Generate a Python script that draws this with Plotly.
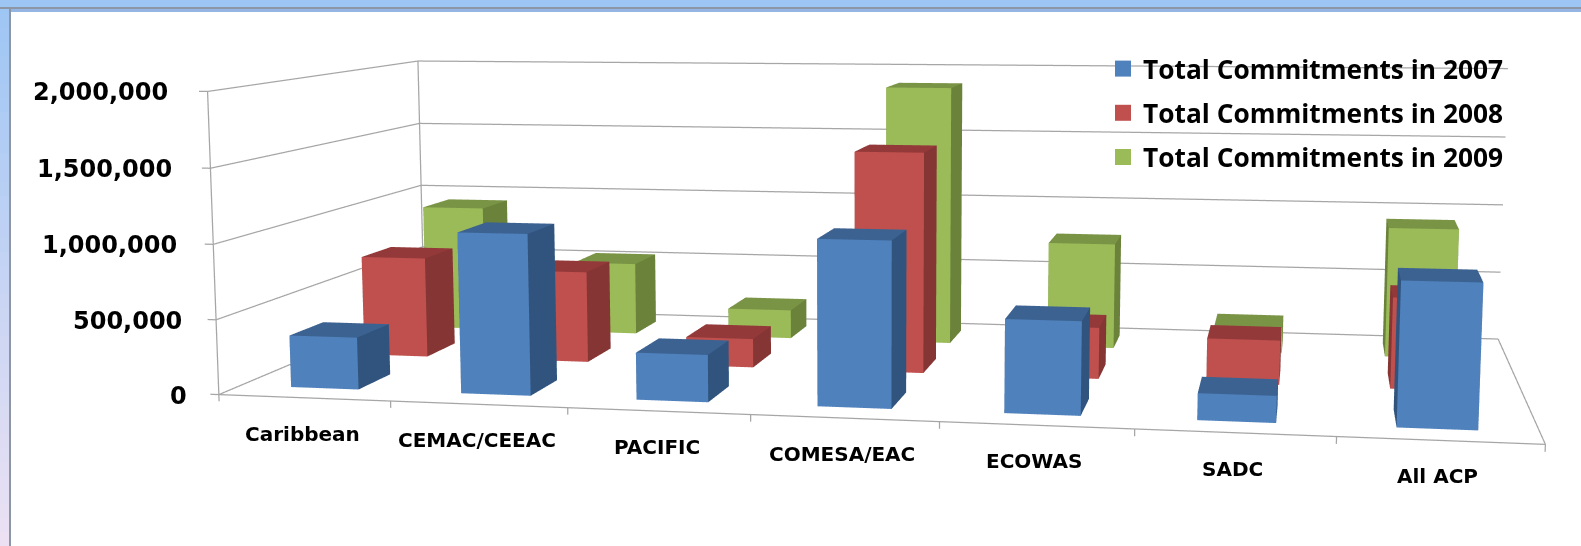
import numpy as np
import plotly.graph_objects as go

categories = ["Caribbean", "CEMAC/CEEAC", "PACIFIC", "COMESA/EAC", "ECOWAS", "SADC", "All ACP"]
series_names = ["Total Commitments in 2007", "Total Commitments in 2008", "Total Commitments in 2009"]
values_2007 = [350000, 1070000, 310000, 1080000, 600000, 170000, 905000]
values_2008 = [710000, 640000, 200000, 1520000, 350000, 300000, 610000]
values_2009 = [930000, 530000, 210000, 1880000, 760000, 185000, 920000]
value_ticks = [0, 500000, 1000000, 1500000, 2000000]
colors_front = ["#4F81BD", "#C0504D", "#9BBB59"]
colors_top = ["#3C6291", "#94393A", "#7A9446"]
colors_side = ["#30547E", "#843534", "#6A8239"]

# Camera calibrated against the reference's box
CAM_EYE = np.array([0.33343, -1.97737, 0.23776])
CAM_DIR = np.array([-0.20696, 0.96859, -0.13781])
CAM_UP = np.array([-0.02455, 0.13568, 0.99045])
BOX = np.array([1.0, 0.45590, 0.23798])
FOCAL = 2439.18
fovy = 2*np.arctan(273/FOCAL)

depth_front = [0.09, 0.43, 0.76]
depth_size = 0.15
bar_w = 0.4
n = len(categories); top = value_ticks[-1]
rng0 = np.array([[0, n], [0, 1], [0, top]], float)
rng = np.array([[-0.1, n+0.05], [-0.01, 1.01], [-60000, 2150000]], float)
A = BOX*(rng[:,1]-rng[:,0])/(rng0[:,1]-rng0[:,0])
shift = BOX*(rng0.sum(1)-rng.sum(1))/2/(rng0[:,1]-rng0[:,0])
eye = CAM_EYE+shift
center = eye + CAM_DIR*.5

def bar_mesh(vals, row):
    X, Y, Z, I, J, K, FC = [], [], [], [], [], [], []
    y0, y1 = depth_front[row], depth_front[row] + depth_size
    for c_i, v in enumerate(vals):
        x0, x1 = c_i + .5 - bar_w/2, c_i + .5 + bar_w/2
        b = len(X)
        for z in (0, v):
            X += [x0, x1, x1, x0]; Y += [y0, y0, y1, y1]; Z += [z]*4
        quads = [((0,1,5,4), colors_front[row]), ((1,2,6,5), colors_side[row]), ((3,0,4,7), colors_side[row]),
                 ((4,5,6,7), colors_top[row]), ((2,3,7,6), colors_side[row]), ((0,1,2,3), colors_side[row])]
        for (a, bb, cc, dd), col in quads:
            I += [b+a, b+a]; J += [b+bb, b+cc]; K += [b+cc, b+dd]; FC += [col, col]
    return go.Mesh3d(x=X, y=Y, z=Z, i=I, j=J, k=K, facecolor=FC, flatshading=True,
                     lighting=dict(ambient=1, diffuse=0, specular=0, fresnel=0), hoverinfo="skip", showlegend=False)

fig = go.Figure()
for row, vals in enumerate([values_2007, values_2008, values_2009]):
    fig.add_trace(bar_mesh(vals, row))

GRID = "#A6A6A6"
lx, ly, lz = [], [], []
def seg(a, b):
    lx.extend([a[0], b[0], None]); ly.extend([a[1], b[1], None]); lz.extend([a[2], b[2], None])
for t in value_ticks:
    seg((-0.05, 0, t), (0, 0, t)); seg((0, 0, t), (0, 1, t)); seg((0, 1, t), (n, 1, t))
seg((0,0,0),(0,0,top)); seg((0,1,0),(0,1,top)); seg((0,0,0),(n,0,0)); seg((n,0,0),(n,1,0))
for i in range(n+1):
    seg((i,0,0),(i,0,-45000))
fig.add_trace(go.Scatter3d(x=lx, y=ly, z=lz, mode="lines", line=dict(color=GRID, width=2.5), hoverinfo="skip", showlegend=False))

for nm, col in zip(series_names, colors_front):
    fig.add_trace(go.Scatter3d(x=[None], y=[None], z=[None], mode="markers", name=nm, legendgroup=nm,
                               marker=dict(symbol="square", size=16, color=col)))

anns = []
for t in value_ticks:
    anns.append(dict(x=0, y=0, z=t, text=f"{t:,}", showarrow=False, xanchor="right", yanchor="middle",
                     xshift=-30-8*t/top, yshift=-1,
                     font=dict(family="DejaVu Sans", size=24, color="black", weight="bold")))
for i, c_name in enumerate(categories):
    anns.append(dict(x=i+.49, y=0, z=0, text=c_name, showarrow=False, xanchor="center", yanchor="middle", yshift=-36,
                     font=dict(family="DejaVu Sans", size=20, color="black", weight="bold")))

shapes = []
stops = np.linspace(0, 1, 40)
for a, b in zip(stops[:-1], stops[1:]):
    m = (a+b)/2
    col = "rgb(%d,%d,%d)" % (157+80*m, 198+28*m, 245-2*m)
    shapes.append(dict(type="rect", xref="paper", yref="paper", x0=0, x1=1, y0=1-a, y1=1-b, fillcolor=col, line_width=0, layer="below"))
def px_rect(x0, y0, x1, y1, col):
    return dict(type="rect", xref="paper", yref="paper", x0=x0/1581, x1=x1/1581, y0=1-y0/546, y1=1-y1/546, fillcolor=col, line_width=0, layer="below")
shapes.append(px_rect(0, 7, 1581, 9, "#8C96A5"))
shapes.append(px_rect(9, 9, 1581, 12, "#95B5E3"))
shapes.append(px_rect(9, 9, 11, 546, "#8C96A5"))
shapes.append(px_rect(11, 12, 1581, 546, "#FFFFFF"))

fig.update_layout(
    width=1581, height=546, margin=dict(l=0, r=0, t=0, b=0), paper_bgcolor="white",
    shapes=shapes,
    legend=dict(x=1103/1581, y=1-45/546, xanchor="left", yanchor="top", tracegroupgap=7, bgcolor="rgba(0,0,0,0)",
                font=dict(family="Open Sans", size=26.3, color="black", weight="bold")),
    scene=dict(
        domain=dict(x=[0, 1], y=[0, 1]), bgcolor="rgba(0,0,0,0)",
        aspectmode="manual", aspectratio=dict(x=float(A[0]), y=float(A[1]), z=float(A[2])),
        xaxis=dict(visible=False, range=rng[0].tolist()), yaxis=dict(visible=False, range=rng[1].tolist()), zaxis=dict(visible=False, range=rng[2].tolist()),
        camera=dict(eye=dict(x=float(eye[0]), y=float(eye[1]), z=float(eye[2])),
                    center=dict(x=float(center[0]), y=float(center[1]), z=float(center[2])),
                    up=dict(x=float(CAM_UP[0]), y=float(CAM_UP[1]), z=float(CAM_UP[2])), projection=dict(type="perspective")),
        annotations=anns,
    ),
)
post = ("document.body.style.margin='0';document.documentElement.style.overflow='hidden';"
        "var g=document.getElementById('{plot_id}')._fullLayout.scene._scene.glplot;"
        "g.fovy=%.6f;g.redraw();" % fovy)
fig.write_html("out.html", post_script=post, config=dict(displayModeBar=False))
